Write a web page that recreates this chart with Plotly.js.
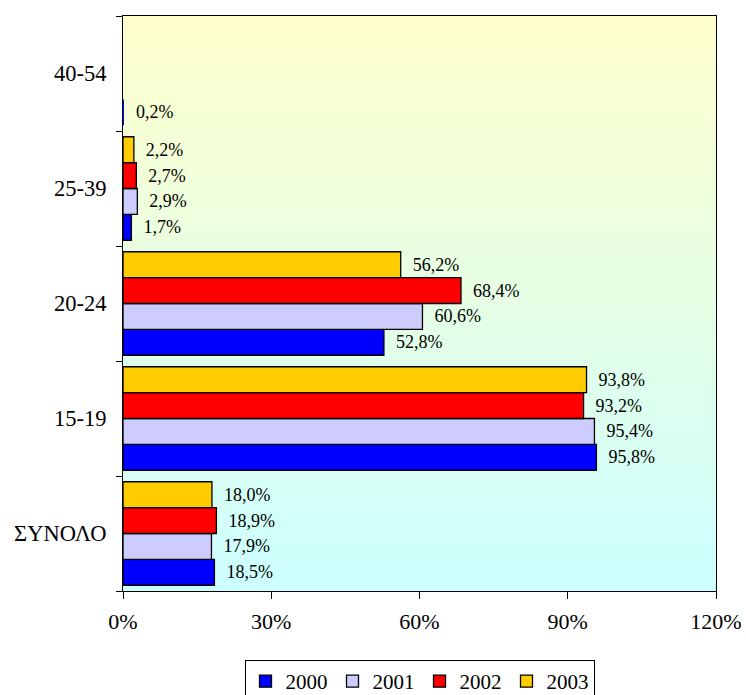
<!DOCTYPE html>
<html>
<head>
<meta charset="utf-8">
<script src="https://cdn.plot.ly/plotly-3.0.1.min.js"></script>
<style>
html,body{margin:0;padding:0;background:#fff;overflow:hidden;}
#chart{width:746px;height:695px;}
</style>
</head>
<body>
<div id="chart"></div>
<script>
// Data
var categories = ["ΣΥΝΟΛΟ", "15-19", "20-24", "25-39", "40-54"];
var years = ["2000", "2001", "2002", "2003"];
var v2000 = [18.5, 95.8, 52.8, 1.7, 0.2];
var v2001 = [17.9, 95.4, 60.6, 2.9, null];
var v2002 = [18.9, 93.2, 68.4, 2.7, null];
var v2003 = [18.0, 93.8, 56.2, 2.2, null];
var xTicks = [0, 30, 60, 90, 120];
var xTickLabels = ["0%", "30%", "60%", "90%", "120%"];

var series = [v2000, v2001, v2002, v2003];
var colors = ["#0000FF", "#CCCCFF", "#FF0000", "#FFCC00"];
var serif = "'Liberation Serif', 'Times New Roman', Times, serif";

function fmt(v){ return v === null ? "" : "\u2002" + v.toFixed(1).replace(".", ",") + "%"; }

var traces = series.map(function(vals, i){
  return {
    type: "bar",
    orientation: "h",
    name: years[i],
    y: categories,
    x: vals,
    text: vals.map(fmt),
    textposition: "outside",
    constraintext: "none",
    cliponaxis: false,
    textfont: {family: serif, size: 18, color: "#000"},
    marker: {
      color: colors[i],
      line: {color: "#000", width: vals.map(function(v){ return (v !== null && v < 1) ? 0 : 1.3; })}
    },
    hoverinfo: "none"
  };
});

var grad = 'data:image/svg+xml;charset=utf-8,' + encodeURIComponent(
  '<svg xmlns="http://www.w3.org/2000/svg" width="100" height="100" preserveAspectRatio="none">' +
  '<defs><linearGradient id="g" x1="0" y1="0" x2="0" y2="1">' +
  '<stop offset="0" stop-color="#FFFFCC"/><stop offset="1" stop-color="#CCFFFF"/>' +
  '</linearGradient></defs><rect width="100" height="100" fill="url(#g)"/></svg>');

var layout = {
  width: 746, height: 695,
  margin: {l: 123, r: 30, t: 16, b: 104, autoexpand: false},
  paper_bgcolor: "#fff",
  plot_bgcolor: "rgba(0,0,0,0)",
  barmode: "group",
  bargap: 0.1,
  bargroupgap: 0,
  showlegend: true,
  font: {family: serif, color: "#000"},
  images: [{
    source: grad, xref: "paper", yref: "paper", x: 0, y: 1,
    sizex: 1, sizey: 1, sizing: "stretch", layer: "below",
    xanchor: "left", yanchor: "top"
  }],
  xaxis: {
    range: [0, 120], tickvals: xTicks, ticktext: xTickLabels,
    ticks: "outside", ticklen: 7, tickcolor: "#000", tickwidth: 1,
    ticklabelstandoff: 4,
    showgrid: false, zeroline: false,
    showline: true, linecolor: "#000", linewidth: 1, mirror: true,
    tickfont: {family: serif, size: 22, color: "#000"}
  },
  yaxis: {
    type: "category", categoryorder: "array", categoryarray: categories,
    ticks: "outside", ticklen: 6, tickcolor: "#000", tickson: "boundaries",
    showgrid: false, zeroline: false,
    showline: true, linecolor: "#000", linewidth: 1, mirror: true,
    ticklabelstandoff: 11,
    tickfont: {family: serif, size: 22.5, color: "#000"}
  },
  legend: {
    orientation: "h", x: 0.5, xanchor: "center",
    yref: "container", y: 35/695, yanchor: "top",
    bordercolor: "#000", borderwidth: 1, bgcolor: "#fff",
    font: {family: serif, size: 21, color: "#000"},
    itemwidth: 30, tracegroupgap: 0
  }
};

Plotly.newPlot("chart", traces, layout, {displayModeBar: false, staticPlot: true});
</script>
</body>
</html>
